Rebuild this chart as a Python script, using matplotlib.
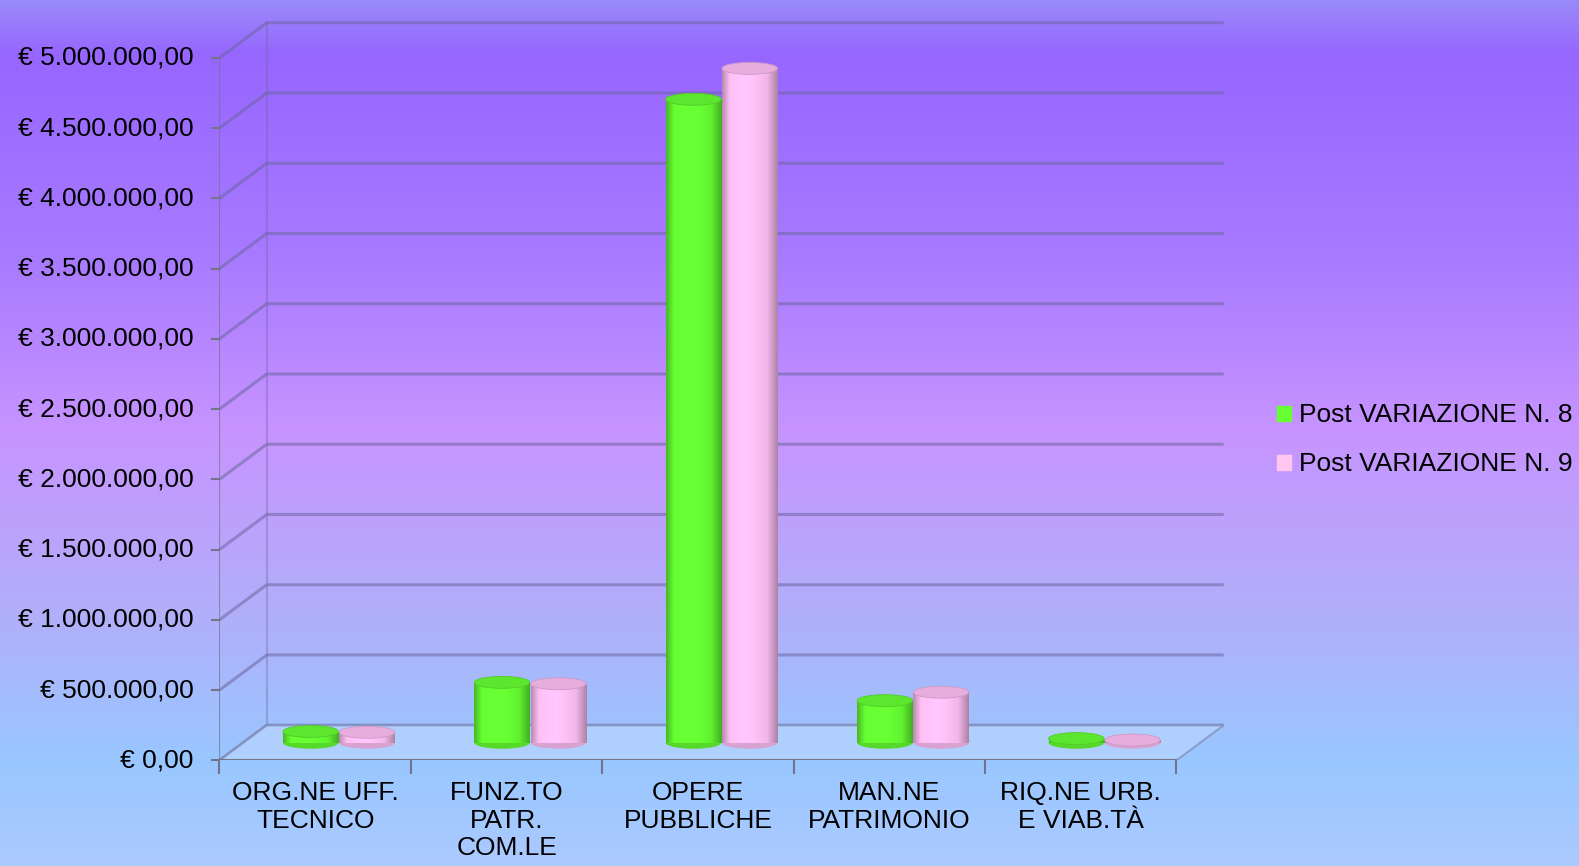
import numpy as np
import matplotlib
matplotlib.use("Agg")
import matplotlib.pyplot as plt
from matplotlib.colors import LinearSegmentedColormap
from matplotlib.patches import Ellipse, Polygon, Rectangle

plt.rcParams['font.family'] = ['Liberation Sans', 'DejaVu Sans']

categories = ["ORG.NE UFF.\nTECNICO", "FUNZ.TO\nPATR.\nCOM.LE", "OPERE\nPUBBLICHE",
              "MAN.NE\nPATRIMONIO", "RIQ.NE URB.\nE VIAB.TÀ"]
series_names = ["Post VARIAZIONE N. 8", "Post VARIAZIONE N. 9"]
var8 = [80000, 430000, 4580000, 300000, 30000]
var9 = [75000, 420000, 4800000, 360000, 20000]
yticks = np.arange(0, 5000001, 500000)


def euro(v):
    s = f"{v:,.2f}".replace(",", "X").replace(".", ",").replace("X", ".")
    return "€ " + s


fig = plt.figure(figsize=(15.79, 8.66), dpi=100)

# background gradient
bg = fig.add_axes([0, 0, 1, 1], zorder=-10)
bg_cmap = LinearSegmentedColormap.from_list("bg", [
    (0.00, (0.60, 0.54, 0.98)),
    (0.06, (0.59, 0.40, 1.00)),
    (0.30, (0.66, 0.48, 1.00)),
    (0.50, (0.78, 0.58, 1.00)),
    (0.70, (0.70, 0.68, 0.98)),
    (0.88, (0.60, 0.78, 1.00)),
    (1.00, (0.67, 0.79, 1.00)),
])
bg.imshow(np.linspace(0, 1, 256).reshape(-1, 1), aspect="auto", cmap=bg_cmap,
          extent=[0, 1, 1, 0])
bg.axis("off")

ax = fig.add_axes([0.139, 0.122, 0.636, 0.855])
ax.set_facecolor("none")
for s in ax.spines.values():
    s.set_visible(False)

n = len(categories)
x0, x1 = -0.5, n - 0.5
dx, dy = 0.247, 250000
ymax = yticks[-1]

grid_col = (0.42, 0.40, 0.62)
# back wall + gridlines
for v in yticks:
    ax.plot([x0, x0 + dx, x1 + dx], [v, v + dy, v + dy], color=grid_col, lw=2.2,
            alpha=0.55, zorder=1, solid_capstyle="butt")
ax.plot([x0 + dx, x0 + dx], [dy, ymax + dy], color=grid_col, lw=1.5, alpha=0.35, zorder=1)

# floor
floor = Polygon([[x0, 0], [x1, 0], [x1 + dx, dy], [x0 + dx, dy]], closed=True,
                facecolor=(0.72, 0.84, 1.0), edgecolor=(0.50, 0.55, 0.72), lw=1.5,
                alpha=0.7, zorder=2)
ax.add_patch(floor)

# front axis and ticks
axis_col = (0.45, 0.45, 0.55)
ax.plot([x0, x0], [0, ymax], color=axis_col, lw=1.5, alpha=0.7, zorder=3)
ax.plot([x0, x1], [0, 0], color=axis_col, lw=1.5, zorder=3)
for v in yticks:
    ax.plot([x0 - 0.04, x0], [v, v], color=axis_col, lw=1.5, zorder=3, clip_on=False)
for b in np.arange(x0, x1 + 0.01, 1.0):
    ax.plot([b, b], [0, -90000], color=axis_col, lw=1.5, zorder=3, clip_on=False)

ax.set_xticks([])
ax.set_yticks([])
for v in yticks:
    ax.text(x0 - 0.135, v, euro(v), ha="right", va="center", fontsize=19, color="black")
for i, c in enumerate(categories):
    ax.text(i, -150000, c, ha="center", va="top", fontsize=19, color="black",
            linespacing=1.18)

# cylinders
bw = 0.29
cap_h = 85000
base = dy / 2
shade = np.concatenate([np.linspace(0.72, 1.0, 15), np.linspace(1.0, 1.04, 30),
                        np.linspace(1.04, 0.95, 35), np.linspace(0.95, 0.68, 20)]).reshape(1, -1)


def cylinder(xc, val, color, z):
    rgb = np.array(matplotlib.colors.to_rgb(color))
    img = np.clip(rgb[None, None, :] * shade[..., None], 0, 1)
    top = base + val
    bars = ax.bar([xc], [val], width=bw, bottom=base, color=color, lw=0, zorder=z)
    rect = bars.patches[0]
    im = ax.imshow(img, extent=[xc - bw / 2, xc + bw / 2, base, top], aspect="auto",
                   zorder=z, interpolation="bilinear")
    im.set_clip_path(rect)
    bottom_e = Ellipse((xc, base), bw, cap_h, facecolor=rgb * 0.85, lw=0, zorder=z - 0.01)
    ax.add_patch(bottom_e)
    top_e = Ellipse((xc, top), bw, cap_h, facecolor=np.clip(rgb * 0.9, 0, 1),
                    edgecolor=rgb * 0.8, lw=0.6, zorder=z + 0.01)
    ax.add_patch(top_e)


green = "#66ff33"
pink = "#ffc0f6"
for i in range(n):
    cylinder(i - 0.147 + dx / 2, var8[i], green, 5 + i)
    cylinder(i + 0.147 + dx / 2, var9[i], pink, 5.5 + i)

ax.set_xlim(x0, x1 + dx)
ax.set_ylim(0, ymax + dy + 20000)

# legend
handles = [Rectangle((0, 0), 1, 1, color=green), Rectangle((0, 0), 1, 1, color="#ffc6f0")]
fig.legend(handles, series_names, loc="center left", bbox_to_anchor=(0.794, 0.492),
           frameon=False, fontsize=19, handlelength=0.5, handleheight=0.5,
           handletextpad=0.3, labelspacing=0.95)

fig.savefig("out.png", dpi=100)
